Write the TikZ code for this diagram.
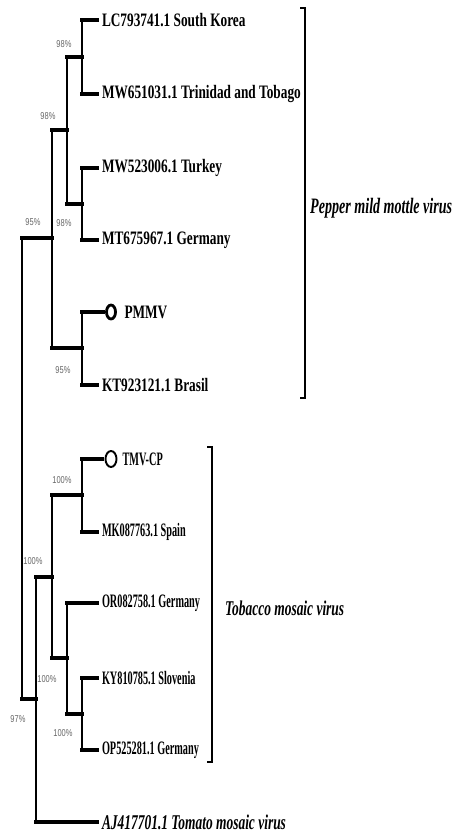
\documentclass[tikz,border=0pt]{standalone}
\usepackage{fontspec}
\newfontfamily\pmfont[FakeStretch=0.7]{Liberation Serif}
\newfontfamily\tmfont[FakeStretch=0.54]{Liberation Serif}
\newfontfamily\clfont[FakeStretch=0.64]{Liberation Serif}
\newfontfamily\bsfont[FakeStretch=0.75]{Liberation Sans}
\usetikzlibrary{positioning, shapes.geometric}

\tikzset{
  hbranch/.style={line width=3.2pt, line cap=rect},
  vbranch/.style={line width=1.8pt},
  pmleaf/.style={anchor=west, inner sep=2pt, outer sep=3pt, font=\pmfont\fontsize{19}{22}\selectfont\bfseries},
  tmleaf/.style={anchor=west, inner sep=2pt, outer sep=3pt, font=\tmfont\fontsize{19}{22}\selectfont\bfseries},
  clleaf/.style={anchor=west, inner sep=2pt, outer sep=3pt, font=\clfont\fontsize{21}{24}\selectfont\bfseries\itshape},
  cladename/.style={anchor=west, inner sep=0pt, font=\clfont\fontsize{21}{24}\selectfont\bfseries\itshape},
  support/.style={text=black!60, inner sep=0pt, font=\bsfont\fontsize{10}{12}\selectfont},
  refmark/.style={draw, ellipse, inner sep=0pt, outer sep=3pt},
  bracket/.style={line width=1.9pt},
}

\begin{document}
\begin{tikzpicture}[x=1pt, y=-1pt]
    \useasboundingbox (0, 0) rectangle (451, 835);

    % leaves, Pepper mild mottle virus
    \node[pmleaf] (lc) at (97, 20) {LC793741.1 South Korea};
    \node[pmleaf] (mw65) at (97, 94) {MW651031.1 Trinidad and Tobago};
    \node[pmleaf] (mw52) at (97, 168) {MW523006.1 Turkey};
    \node[pmleaf] (mt) at (97, 240) {MT675967.1 Germany};
    \node[refmark, line width=2.8pt, minimum width=9pt, minimum height=14pt] (pmmvdot) at (111, 312) {};
    \node[pmleaf, right=1pt of pmmvdot] (pmmv) {PMMV};
    \node[pmleaf] (kt) at (97, 385) {KT923121.1 Brasil};

    % leaves, Tobacco mosaic virus
    \node[refmark, line width=1.9pt, minimum width=11pt, minimum height=16pt] (tmvdot) at (111, 459) {};
    \node[tmleaf, right=-2pt of tmvdot] (tmv) {TMV-CP};
    \node[tmleaf] (mk) at (97, 532) {MK087763.1 Spain};
    \node[tmleaf] (or) at (97, 603) {OR082758.1 Germany};
    \node[tmleaf] (ky) at (97, 678) {KY810785.1 Slovenia};
    \node[tmleaf] (op) at (97, 750) {OP525281.1 Germany};

    % outgroup
    \node[clleaf] (aj) at (97, 822) {AJ417701.1 Tomato mosaic virus};

    % inner nodes
    \coordinate (n1) at (82, 57);
    \coordinate (n2) at (82, 204);
    \coordinate (n3) at (67, 130);
    \coordinate (n4) at (82, 348);
    \coordinate (n5) at (52, 238);
    \coordinate (n6) at (82, 495);
    \coordinate (n7) at (82, 714);
    \coordinate (n8) at (67, 658);
    \coordinate (n9) at (52, 577);
    \coordinate (n10) at (36, 699);
    \coordinate (n0) at (22, 468);

    % PMMV clade
    \draw[vbranch] (n1 |- lc) -- (n1 |- mw65);
    \draw[hbranch] (n1 |- lc) -- (lc);
    \draw[hbranch] (n1 |- mw65) -- (mw65);
    \draw[vbranch] (n2 |- mw52) -- (n2 |- mt);
    \draw[hbranch] (n2 |- mw52) -- (mw52);
    \draw[hbranch] (n2 |- mt) -- (mt);
    \draw[vbranch] (n3 |- n1) -- (n3 |- n2);
    \draw[hbranch] (n3 |- n1) -- (n1);
    \draw[hbranch] (n3 |- n2) -- (n2);
    \draw[vbranch] (n4 |- pmmvdot) -- (n4 |- kt);
    \draw[hbranch] (n4 |- pmmvdot) -- (pmmvdot);
    \draw[hbranch] (n4 |- kt) -- (kt);
    \draw[vbranch] (n5 |- n3) -- (n5 |- n4);
    \draw[hbranch] (n5 |- n3) -- (n3);
    \draw[hbranch] (n5 |- n4) -- (n4);

    % TMV clade
    \draw[vbranch] (n6 |- tmvdot) -- (n6 |- mk);
    \draw[hbranch] (n6 |- tmvdot) -- (tmvdot);
    \draw[hbranch] (n6 |- mk) -- (mk);
    \draw[vbranch] (n7 |- ky) -- (n7 |- op);
    \draw[hbranch] (n7 |- ky) -- (ky);
    \draw[hbranch] (n7 |- op) -- (op);
    \draw[vbranch] (n8 |- or) -- (n8 |- n7);
    \draw[hbranch] (n8 |- or) -- (or);
    \draw[hbranch] (n8 |- n7) -- (n7);
    \draw[vbranch] (n9 |- n6) -- (n9 |- n8);
    \draw[hbranch] (n9 |- n6) -- (n6);
    \draw[hbranch] (n9 |- n8) -- (n8);
    \draw[vbranch] (n10 |- n9) -- (n10 |- aj);
    \draw[hbranch] (n10 |- n9) -- (n9);
    \draw[hbranch] (n10 |- aj) -- (aj);

    % root
    \draw[vbranch, line width=1.4pt] (n0 |- n5) -- (n0 |- n10);
    \draw[hbranch] (n0 |- n5) -- (n5);
    \draw[hbranch] (n0 |- n10) -- (n10);

    % bootstrap values
    \node[support] (s1) at (64, 44) {98\%};
    \node[support] (s2) at (64, 223) {98\%};
    \node[support] (s3) at (48, 116) {98\%};
    \node[support] (s4) at (63, 370) {95\%};
    \node[support] (s5) at (33, 222) {95\%};
    \node[support] (s6) at (62, 480) {100\%};
    \node[support] (s7) at (63, 733) {100\%};
    \node[support] (s8) at (47, 679) {100\%};
    \node[support] (s9) at (33, 561) {100\%};
    \node[support] (s10) at (18, 719) {97\%};

    % clade brackets
    \draw[bracket] (300, 8) -| (305, 398) -- (300, 398);
    \node[cladename, font=\clfont\fontsize{22}{26}\selectfont\bfseries\itshape] (pmname) at (310, 208) {Pepper mild mottle virus};
    \draw[bracket] (207, 447) -| (212, 762) -- (207, 762);
    \node[cladename] (tmname) at (225, 608) {Tobacco mosaic virus};
\end{tikzpicture}
\end{document}
